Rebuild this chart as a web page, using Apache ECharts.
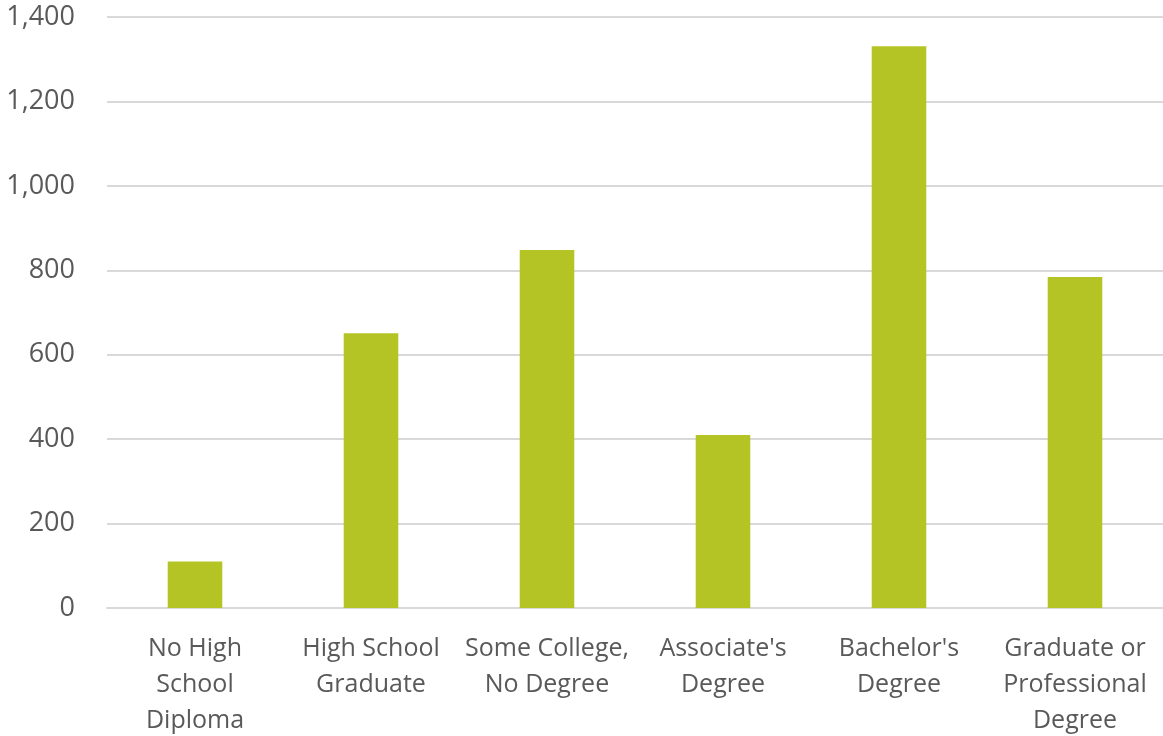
<!DOCTYPE html>
<html><head><meta charset="utf-8">
<script src="https://cdn.jsdelivr.net/npm/echarts@6/dist/echarts.min.js"></script>
<style>html,body{margin:0;padding:0;background:#fff}#c{width:1163px;height:736px}</style>
</head><body><div id="c"></div>
<script>
const categories = ["No High\nSchool\nDiploma", "High School\nGraduate", "Some College,\nNo Degree", "Associate's\nDegree", "Bachelor's\nDegree", "Graduate or\nProfessional\nDegree"];
const values = [110, 651, 848, 410, 1331, 784];
const yTicks = {min: 0, max: 1400, interval: 200};

const chart = echarts.init(document.getElementById('c'));
chart.setOption({
  animation: false,
  grid: {left: 107, right: 0, top: 17, bottom: 128, containLabel: false, outerBoundsMode: 'none'},
  xAxis: {
    type: 'category', data: categories,
    axisLine: {lineStyle: {color: '#d9d9d9', width: 2}},
    axisTick: {show: false},
    axisLabel: {color: '#595959', fontFamily: 'Open Sans', fontSize: 25, lineHeight: 36, margin: 23, interval: 0}
  },
  yAxis: {
    type: 'value', min: yTicks.min, max: yTicks.max, interval: yTicks.interval,
    axisLine: {show: false}, axisTick: {show: false},
    splitLine: {lineStyle: {color: '#d9d9d9', width: 2}},
    axisLabel: {color: '#595959', fontFamily: 'Open Sans', fontSize: 27, margin: 32,
      formatter: v => v.toLocaleString('en-US')}
  },
  series: [{type: 'bar', data: values, barWidth: '31%', itemStyle: {color: '#b5c425'}}]
});
</script></body></html>
